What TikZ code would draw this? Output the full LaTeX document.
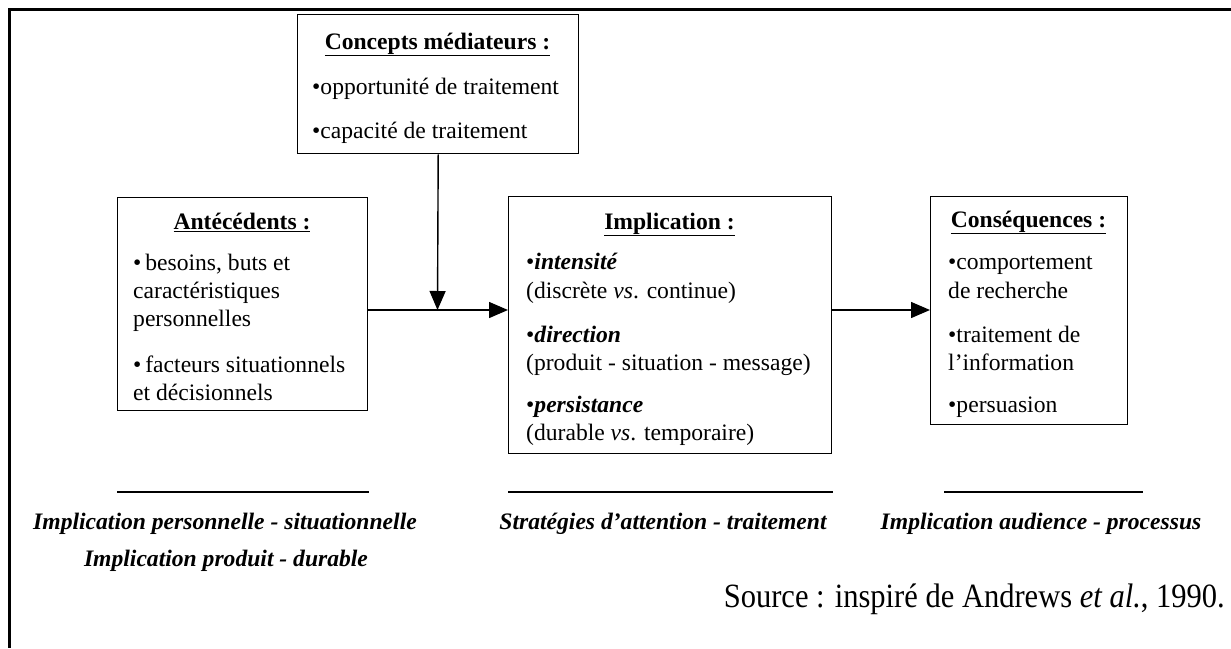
\documentclass[tikz,border=0pt]{standalone}
\usepackage{fontspec}
\setmainfont{Liberation Serif}
\usetikzlibrary{arrows.meta}
\tikzset{
  box/.style={draw, line width=1.4pt, inner sep=0pt, anchor=north west},
  txt/.style={inner sep=0pt, anchor=base west, font=\fontsize{23.6}{28}\selectfont},
  ttl/.style={inner sep=0pt, anchor=base, font=\fontsize{23.6}{28}\selectfont\bfseries},
  lbl/.style={inner sep=0pt, anchor=base, font=\fontsize{23.6}{28}\selectfont\bfseries\itshape},
  conn/.style={line width=1.4pt, -{Triangle[length=19pt,width=16pt]}},
  sep/.style={line width=1.8pt}
}
\begin{document}
\begin{tikzpicture}[x=1pt,y=-1pt]
\useasboundingbox (0,0) rectangle (1231,648);
% frame (top and left only)
\draw[line width=3pt, line join=miter] (1231,9.5) -- (9.5,9.5) -- (9.5,648);

% boxes
\node[box, minimum width=281pt, minimum height=139pt] (conc) at (297,14) {};
\node[box, minimum width=250pt, minimum height=213pt] (ante) at (117,197) {};
\node[box, minimum width=323pt, minimum height=257pt] (impl) at (508,196) {};
\node[box, minimum width=197pt, minimum height=228pt] (cons) at (930,196) {};

% Concepts
\node[ttl] (concT) at (437.5,49) {\underline{Concepts médiateurs :}};
\node[txt] (conc1) at (312,94) {\textbullet opportunité de traitement};
\node[txt] (conc2) at (312,138) {\textbullet capacité de traitement};

% Antecedents
\node[ttl] (anteT) at (242,229) {\underline{Antécédents :}};
\node[txt] (ante1) at (133,270) {\textbullet\,besoins, buts et};
\node[txt] (ante2) at (133,298) {caractéristiques};
\node[txt] (ante3) at (133,326) {personnelles};
\node[txt] (ante4) at (133,372) {\textbullet\,facteurs situationnels};
\node[txt] (ante5) at (133,400) {et décisionnels};

% Implication
\node[ttl] (implT) at (669.5,229) {\underline{Implication :}};
\node[txt] (impl1) at (526,269) {\textbullet\textbf{\textit{intensité}}};
\node[txt] (impl2) at (526,298) {(discrète \textit{vs}. continue)};
\node[txt] (impl3) at (526,342) {\textbullet\textbf{\textit{direction}}};
\node[txt] (impl4) at (526,370) {(produit - situation - message)};
\node[txt] (impl5) at (526,412) {\textbullet\textbf{\textit{persistance}}};
\node[txt] (impl6) at (526,440) {(durable \textit{vs}. temporaire)};

% Consequences
\node[ttl] (consT) at (1028.5,227) {\underline{Conséquences :}};
\node[txt] (cons1) at (948,269) {\textbullet comportement};
\node[txt] (cons2) at (948,298) {de recherche};
\node[txt] (cons3) at (948,342) {\textbullet traitement de};
\node[txt] (cons4) at (948,370) {l’information};
\node[txt] (cons5) at (948,412) {\textbullet persuasion};

% connectors
\coordinate (j) at (437.5,310);
\draw[conn] (ante.east |- j) -- (impl.west |- j);
\draw[conn] (conc.south) -- (j);
\draw[conn] (impl.east |- j) -- (cons.west |- j);

% separators
\draw[sep] (117,492) -- (369,492);
\draw[sep] (508,492) -- (833,492);
\draw[sep] (944,492) -- (1143,492);

% bottom labels
\node[lbl] (lab1) at (225,529) {Implication personnelle - situationnelle};
\node[lbl] (lab2) at (226,566) {Implication produit - durable};
\node[lbl] (lab3) at (663,529) {Stratégies d’attention - traitement};
\node[lbl] (lab4) at (1041,529) {Implication audience - processus};

% source
\node[inner sep=0pt, anchor=base east] (src) at (1225,607)
  {\resizebox{501pt}{\height}{\fontsize{34}{40}\selectfont Source : inspiré de Andrews \textit{et al.}, 1990.}};
\end{tikzpicture}
\end{document}
